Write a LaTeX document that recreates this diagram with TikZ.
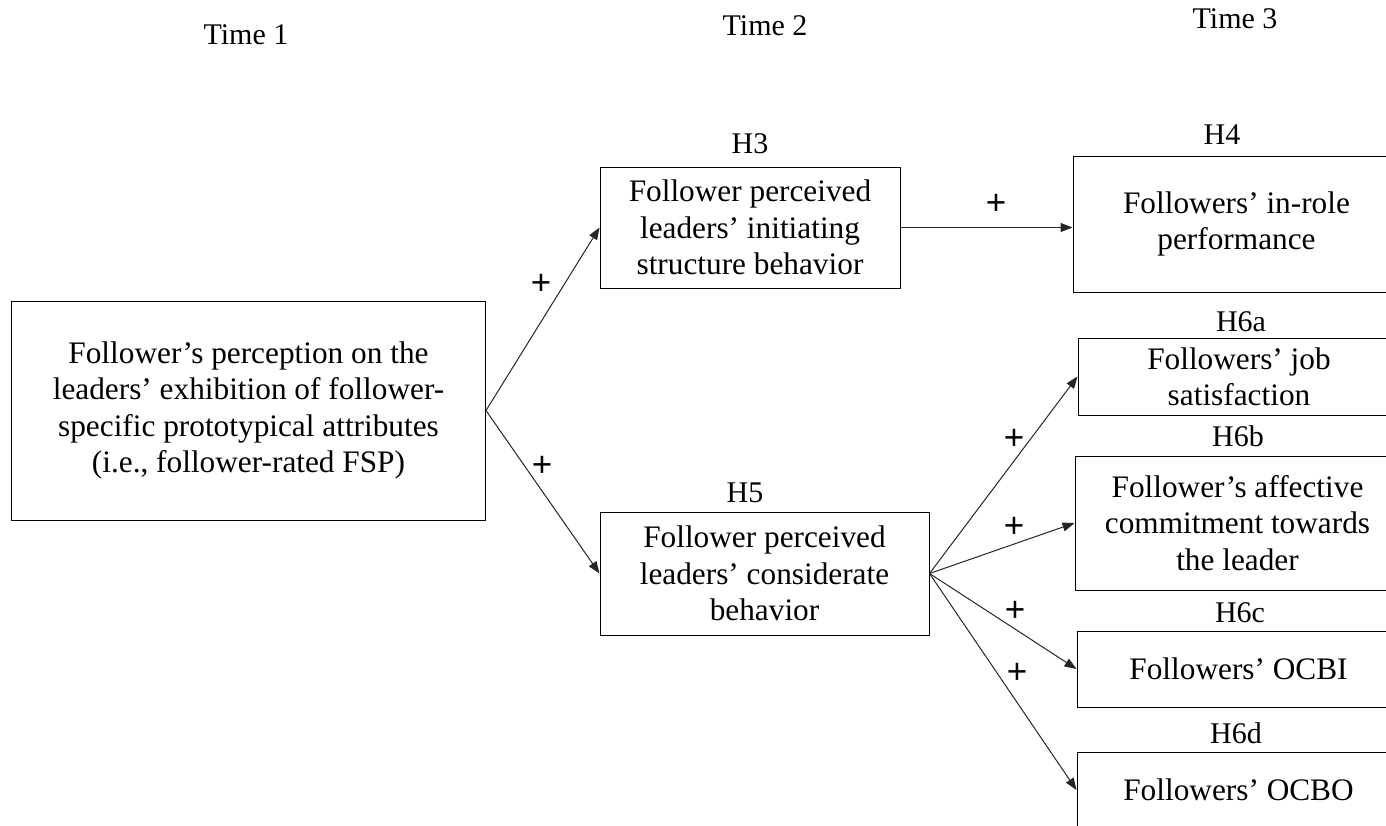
\documentclass[tikz,border=0pt]{standalone}
\usepackage{fontspec}
\setmainfont{Liberation Serif}
\newfontfamily\plusfont{Liberation Sans}
\usetikzlibrary{arrows.meta}
\begin{document}
\begin{tikzpicture}[x=1pt,y=-1pt,
  box/.style={draw, line width=1pt, align=center, inner sep=0pt, font=\fontsize{31.3}{36.3}\selectfont},
  lab/.style={font=\fontsize{30}{36}\selectfont, inner sep=0pt},
  plus/.style={font=\plusfont\fontsize{35}{40}\selectfont, inner sep=0pt},
  arr/.style={line width=1pt, draw=black!85, -{Triangle[length=12pt,width=9pt]}},
]
\useasboundingbox (0,0) rectangle (1386,825);
\clip (0,0) rectangle (1386,825);
% time labels
\node[lab, anchor=base] (t1) at (246,44) {Time 1};
\node[lab, anchor=base] (t2) at (765,35) {Time 2};
\node[lab, anchor=base] (t3) at (1235,28) {Time 3};
% boxes
\node[box, minimum width=474, minimum height=219] (fsp) at (248.5,410.5)
  {Follower’s perception on the\\leaders’ exhibition of follower-\\specific prototypical attributes\\(i.e., follower-rated FSP)};
\node[box, minimum width=300, minimum height=121] (h3) at (750,227.5)
  {Follower perceived\\leaders’ initiating\\structure behavior};
\node[box, minimum width=329, minimum height=123] (h5) at (764.5,573.5)
  {Follower perceived\\leaders’ considerate\\behavior};
\node[box, minimum width=327, minimum height=136] (h4) at (1236.5,224)
  {Followers’ in-role\\performance};
\node[box, minimum width=322, minimum height=77] (h6a) at (1239,376.5)
  {Followers’ job\\satisfaction};
\node[box, minimum width=325, minimum height=134] (h6b) at (1237.5,523)
  {Follower’s affective\\commitment towards\\the leader};
\node[box, minimum width=323, minimum height=76] (h6c) at (1238.5,669)
  {Followers’ OCBI};
\node[box, minimum width=323, minimum height=76] (h6d) at (1238.5,790)
  {Followers’ OCBO};
% hypothesis labels
\node[lab, anchor=base] (lh3) at (750,153) {H3};
\node[lab, anchor=base] (lh4) at (1222,144) {H4};
\node[lab, anchor=base] (lh5) at (745,502) {H5};
\node[lab, anchor=base] (lh6a) at (1241,331) {H6a};
\node[lab, anchor=base] (lh6b) at (1238,446) {H6b};
\node[lab, anchor=base] (lh6c) at (1240,622) {H6c};
\node[lab, anchor=base] (lh6d) at (1236,743) {H6d};
% arrows
\draw[arr] (fsp.east) -- (h3.west);
\draw[arr] (fsp.east) -- (h5.west);
\draw[arr] (h3.east) -- (h3.east -| h4.west);
\draw[arr] (h5.east) -- (h6a.west);
\draw[arr] (h5.east) -- (h6b.west);
\draw[arr] (h5.east) -- (h6c.west);
\draw[arr] (h5.east) -- (h6d.west);
% plus signs
\node[plus] (p1) at (541,284) {+};
\node[plus] (p2) at (542,466) {+};
\node[plus] (p3) at (996,204) {+};
\node[plus] (p4) at (1014,439) {+};
\node[plus] (p5) at (1014,527) {+};
\node[plus] (p6) at (1015,611) {+};
\node[plus] (p7) at (1017,673) {+};
\end{tikzpicture}
\end{document}
